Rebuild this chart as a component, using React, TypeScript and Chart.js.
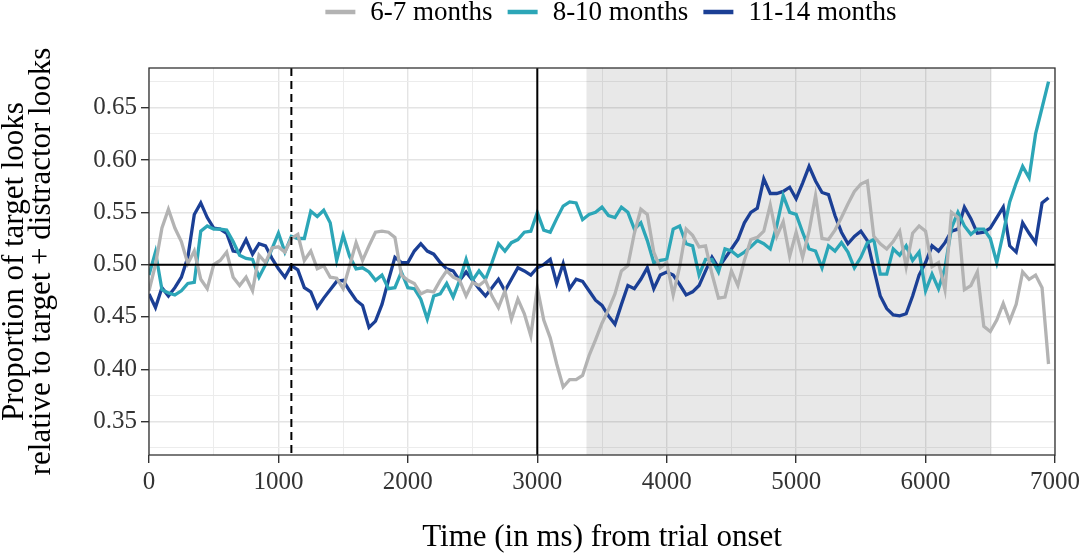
import { useEffect, useRef } from 'react';
import { Chart, registerables } from 'chart.js';

Chart.register(...registerables);

// time axis (ms from trial onset), 50 ms bins
const timeMs = [
  0, 50, 100, 150, 200, 250, 300, 350, 400, 450, 500, 550, 600, 650, 700, 750, 800, 850, 900, 950,
  1000, 1050, 1100, 1150, 1200, 1250, 1300, 1350, 1400, 1450, 1500, 1550, 1600, 1650, 1700, 1750, 1800, 1850, 1900, 1950,
  2000, 2050, 2100, 2150, 2200, 2250, 2300, 2350, 2400, 2450, 2500, 2550, 2600, 2650, 2700, 2750, 2800, 2850, 2900, 2950,
  3000, 3050, 3100, 3150, 3200, 3250, 3300, 3350, 3400, 3450, 3500, 3550, 3600, 3650, 3700, 3750, 3800, 3850, 3900, 3950,
  4000, 4050, 4100, 4150, 4200, 4250, 4300, 4350, 4400, 4450, 4500, 4550, 4600, 4650, 4700, 4750, 4800, 4850, 4900, 4950,
  5000, 5050, 5100, 5150, 5200, 5250, 5300, 5350, 5400, 5450, 5500, 5550, 5600, 5650, 5700, 5750, 5800, 5850, 5900, 5950,
  6000, 6050, 6100, 6150, 6200, 6250, 6300, 6350, 6400, 6450, 6500, 6550, 6600, 6650, 6700, 6750, 6800, 6850, 6900, 6950,
];

const months6to7 = [
  0.475, 0.500, 0.535, 0.553, 0.535, 0.522, 0.501, 0.513, 0.486, 0.477, 0.500, 0.504, 0.512, 0.488, 0.480, 0.488, 0.475, 0.509, 0.502, 0.516,
  0.517, 0.512, 0.525, 0.529, 0.504, 0.513, 0.496, 0.499, 0.488, 0.487, 0.477, 0.499, 0.521, 0.504, 0.518, 0.531, 0.532, 0.531, 0.526, 0.490,
  0.485, 0.482, 0.472, 0.475, 0.474, 0.485, 0.494, 0.488, 0.485, 0.470, 0.483, 0.480, 0.485, 0.470, 0.459, 0.475, 0.448, 0.467, 0.453, 0.432,
  0.478, 0.447, 0.430, 0.405, 0.383, 0.390, 0.390, 0.394, 0.413, 0.428, 0.444, 0.457, 0.472, 0.494, 0.499, 0.530, 0.553, 0.548, 0.512, 0.497,
  0.502, 0.471, 0.498, 0.534, 0.528, 0.517, 0.518, 0.491, 0.468, 0.469, 0.494, 0.480, 0.504, 0.524, 0.526, 0.532, 0.557, 0.527, 0.541, 0.508,
  0.531, 0.507, 0.532, 0.566, 0.525, 0.524, 0.533, 0.545, 0.558, 0.570, 0.577, 0.580, 0.527, 0.520, 0.515, 0.522, 0.532, 0.498, 0.530, 0.537,
  0.532, 0.498, 0.502, 0.476, 0.550, 0.545, 0.476, 0.480, 0.493, 0.441, 0.436, 0.447, 0.463, 0.446, 0.462, 0.493, 0.486, 0.490, 0.478, 0.405,
];

const months8to10 = [
  0.490, 0.512, 0.476, 0.473, 0.471, 0.475, 0.482, 0.483, 0.532, 0.537, 0.534, 0.534, 0.533, 0.522, 0.509, 0.506, 0.505, 0.488, 0.500, 0.515,
  0.530, 0.512, 0.527, 0.525, 0.525, 0.551, 0.546, 0.552, 0.540, 0.504, 0.528, 0.508, 0.496, 0.497, 0.493, 0.485, 0.490, 0.477, 0.478, 0.493,
  0.478, 0.477, 0.467, 0.448, 0.470, 0.472, 0.482, 0.469, 0.485, 0.505, 0.485, 0.494, 0.486, 0.502, 0.520, 0.513, 0.521, 0.524, 0.531, 0.532,
  0.550, 0.533, 0.531, 0.544, 0.556, 0.560, 0.559, 0.543, 0.548, 0.550, 0.555, 0.547, 0.545, 0.555, 0.550, 0.534, 0.540, 0.523, 0.502, 0.504,
  0.505, 0.534, 0.537, 0.520, 0.518, 0.490, 0.505, 0.505, 0.493, 0.515, 0.513, 0.508, 0.512, 0.517, 0.523, 0.520, 0.515, 0.537, 0.566, 0.550,
  0.548, 0.531, 0.515, 0.513, 0.497, 0.518, 0.513, 0.521, 0.512, 0.497, 0.507, 0.521, 0.524, 0.491, 0.491, 0.515, 0.509, 0.518, 0.504, 0.512,
  0.475, 0.491, 0.477, 0.497, 0.535, 0.550, 0.537, 0.529, 0.534, 0.534, 0.525, 0.502, 0.530, 0.560, 0.578, 0.594, 0.583, 0.625, 0.650, 0.675,
];

const months11to14 = [
  0.472, 0.459, 0.478, 0.470, 0.478, 0.488, 0.507, 0.548, 0.559, 0.545, 0.535, 0.534, 0.530, 0.513, 0.512, 0.524, 0.510, 0.520, 0.518, 0.506,
  0.496, 0.488, 0.499, 0.495, 0.478, 0.474, 0.459, 0.468, 0.476, 0.484, 0.485, 0.475, 0.466, 0.461, 0.440, 0.446, 0.462, 0.485, 0.507, 0.502,
  0.502, 0.513, 0.520, 0.513, 0.510, 0.502, 0.496, 0.494, 0.485, 0.493, 0.485, 0.477, 0.470, 0.478, 0.486, 0.475, 0.486, 0.497, 0.494, 0.490,
  0.497, 0.500, 0.505, 0.482, 0.501, 0.477, 0.486, 0.484, 0.475, 0.466, 0.461, 0.451, 0.443, 0.462, 0.480, 0.477, 0.486, 0.497, 0.477, 0.490,
  0.493, 0.490, 0.481, 0.471, 0.474, 0.480, 0.494, 0.507, 0.497, 0.506, 0.515, 0.524, 0.540, 0.550, 0.554, 0.582, 0.568, 0.568, 0.570, 0.574,
  0.563, 0.578, 0.594, 0.580, 0.569, 0.567, 0.547, 0.531, 0.520, 0.527, 0.532, 0.523, 0.496, 0.470, 0.458, 0.452, 0.451, 0.453, 0.470, 0.490,
  0.502, 0.518, 0.513, 0.521, 0.532, 0.534, 0.555, 0.544, 0.530, 0.531, 0.535, 0.545, 0.555, 0.518, 0.512, 0.540, 0.530, 0.521, 0.559, 0.564,
];

const groupLabels = ['6-7 months', '8-10 months', '11-14 months'];
const groupColors = ['#b3b3b3', '#2ca6b7', '#1b3f95'];

// reference markers
const shadeStart = 3380;
const shadeEnd = 6510;
const dashedAt = 1100;
const solidAt = 3000;
const chanceLevel = 0.5;

const serif = "'Liberation Serif', 'Times New Roman', serif";

const isMajorY = (v: number) => Math.round(v / 0.025) % 2 === 0;
const isMajorX = (v: number) => Math.round(v) % 1000 === 0;

const panelPlugin = {
  id: 'panelExtras',
  beforeDatasetsDraw(chart: any) {
    const { ctx, chartArea, scales } = chart;
    const x1 = scales.x.getPixelForValue(shadeStart);
    const x2 = scales.x.getPixelForValue(shadeEnd);
    ctx.save();
    ctx.fillStyle = 'rgba(0,0,0,0.09)';
    ctx.fillRect(x1, chartArea.top, x2 - x1, chartArea.bottom - chartArea.top);
    ctx.restore();
  },
  afterDatasetsDraw(chart: any) {
    const { ctx, chartArea, scales } = chart;
    const { left, right, top, bottom } = chartArea;
    ctx.save();
    ctx.strokeStyle = '#000';
    ctx.lineWidth = 2;
    const y0 = scales.y.getPixelForValue(chanceLevel);
    ctx.beginPath();
    ctx.moveTo(left, y0);
    ctx.lineTo(right, y0);
    ctx.stroke();
    const xs = scales.x.getPixelForValue(solidAt);
    ctx.beginPath();
    ctx.moveTo(xs, top);
    ctx.lineTo(xs, bottom);
    ctx.stroke();
    const xd = scales.x.getPixelForValue(dashedAt);
    ctx.setLineDash([8, 5]);
    ctx.beginPath();
    ctx.moveTo(xd, top);
    ctx.lineTo(xd, bottom);
    ctx.stroke();
    ctx.setLineDash([]);
    // panel border
    ctx.strokeStyle = '#333';
    ctx.lineWidth = 1.3;
    ctx.strokeRect(left, top, right - left, bottom - top);
    ctx.restore();
  },
  afterDraw(chart: any) {
    const { ctx } = chart;
    ctx.save();
    ctx.font = `27px ${serif}`;
    ctx.textBaseline = 'middle';
    const widths = groupLabels.map((l) => ctx.measureText(l).width);
    const total = widths.reduce((a, w) => a + 45 + w, 0) + 15 * (groupLabels.length - 1);
    let x = 611 - total / 2;
    const y = 12;
    groupLabels.forEach((label, i) => {
      ctx.strokeStyle = groupColors[i];
      ctx.lineWidth = 4.5;
      ctx.beginPath();
      ctx.moveTo(x, y);
      ctx.lineTo(x + 30, y);
      ctx.stroke();
      ctx.fillStyle = '#000';
      ctx.fillText(label, x + 45, y + 1);
      x += 45 + widths[i] + 15;
    });
    ctx.restore();
  },
};

export default function App() {
  const canvasRef = useRef<HTMLCanvasElement>(null);
  const chartRef = useRef<Chart | null>(null);

  useEffect(() => {
    document.body.style.margin = '0';
    if (!canvasRef.current) return;
    if (chartRef.current) chartRef.current.destroy();

    const series = [months6to7, months8to10, months11to14];

    chartRef.current = new Chart(canvasRef.current, {
      type: 'line',
      data: {
        datasets: series.map((vals, i) => ({
          label: groupLabels[i],
          data: timeMs.map((t, j) => ({ x: t, y: vals[j] })),
          borderColor: groupColors[i],
          borderWidth: 3.3,
          pointRadius: 0,
          tension: 0,
          fill: false,
        })),
      },
      options: {
        animation: false,
        responsive: true,
        maintainAspectRatio: false,
        layout: { padding: { top: 68, right: 28, bottom: 0, left: 0 } },
        plugins: {
          legend: { display: false },
          tooltip: { enabled: false },
        },
        scales: {
          x: {
            type: 'linear',
            min: 0,
            max: 7000,
            afterFit: (scale: any) => {
              scale.height = 101;
            },
            border: { display: false },
            grid: {
              color: (c: any) => (isMajorX(c.tick.value) ? '#e4e4e4' : '#ececec'),
              lineWidth: (c: any) => (isMajorX(c.tick.value) ? 1.4 : 1),
              tickColor: (c: any) => (isMajorX(c.tick.value) ? '#333' : 'rgba(0,0,0,0)'),
              tickLength: 8,
            },
            ticks: {
              stepSize: 500,
              autoSkip: false,
              maxRotation: 0,
              padding: 4,
              color: '#333',
              font: { family: serif, size: 25 },
              callback: (v: any) => (isMajorX(Number(v)) ? String(v) : ''),
            },
            title: {
              display: true,
              text: 'Time (in ms) from trial onset',
              color: '#000',
              font: { family: serif, size: 31, lineHeight: 0.87 },
              padding: { top: 0, bottom: 4.5 },
            },
          },
          y: {
            type: 'linear',
            min: 0.318,
            max: 0.688,
            afterFit: (scale: any) => {
              scale.width = 149;
            },
            border: { display: false },
            grid: {
              color: (c: any) => (isMajorY(c.tick.value) ? '#e4e4e4' : '#ececec'),
              lineWidth: (c: any) => (isMajorY(c.tick.value) ? 1.4 : 1),
              tickColor: (c: any) => (isMajorY(c.tick.value) ? '#333' : 'rgba(0,0,0,0)'),
              tickLength: 8,
            },
            ticks: {
              stepSize: 0.025,
              includeBounds: false,
              autoSkip: false,
              padding: 4,
              color: '#333',
              font: { family: serif, size: 25 },
              callback: (v: any) => (isMajorY(Number(v)) ? Number(v).toFixed(2) : ''),
            },
            title: {
              display: true,
              text: ['Proportion of target looks', 'relative to target + distractor looks'],
              color: '#000',
              font: { family: serif, size: 31, lineHeight: 0.87 },
              padding: { top: 1.5, bottom: 0 },
            },
          },
        },
      },
      plugins: [panelPlugin],
    });

    return () => {
      if (chartRef.current) {
        chartRef.current.destroy();
        chartRef.current = null;
      }
    };
  }, []);

  return (
    <div style={{ position: 'relative', width: 1084, height: 556 }}>
      <canvas ref={canvasRef} />
    </div>
  );
}
